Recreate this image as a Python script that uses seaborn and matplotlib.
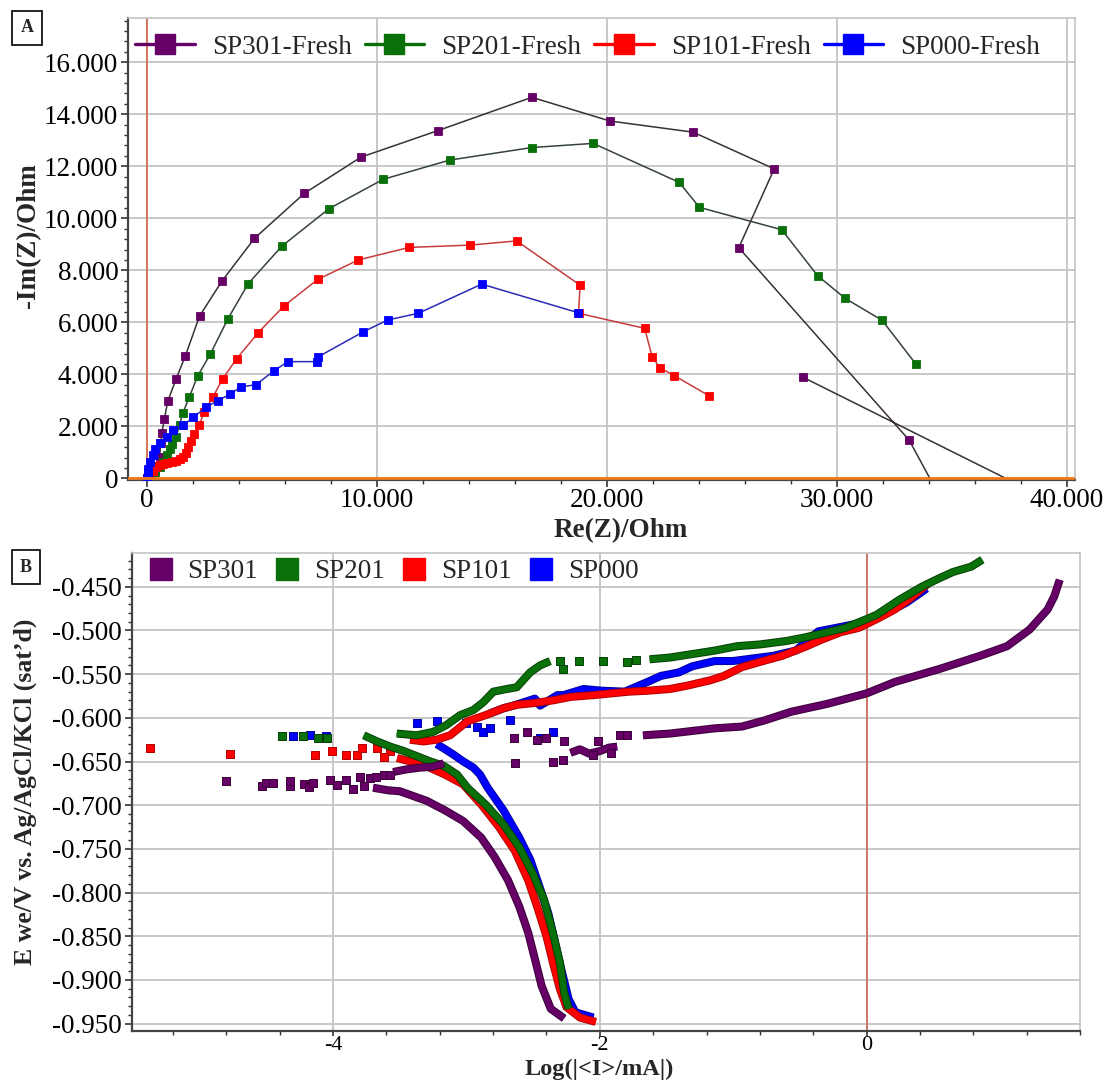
import matplotlib
matplotlib.use("Agg")
import matplotlib.pyplot as plt
import matplotlib.patheffects as pe
from matplotlib.lines import Line2D
from matplotlib.ticker import MultipleLocator, FuncFormatter, AutoMinorLocator
import seaborn as sns

# ---------------- Panel A: Nyquist plots (Ohm) ----------------
sp301_re = [0, 60, 120, 200, 280, 350, 450, 540, 600, 640, 750, 900, 1260, 1660, 2280, 3250,
            4670, 6840, 9300, 12640, 16730, 20130, 23750, 27270, 25730, 33140, 34500, 40000, 28520]
sp301_im = [0, 90, 140, 190, 250, 320, 470, 830, 1350, 1730, 2280, 2970, 3820, 4700, 6240, 7580,
            9230, 10960, 12350, 13370, 14650, 13740, 13310, 11900, 8870, 1470, -750, -1170, 3890]

sp201_re = [0, 130, 350, 570, 710, 860, 1000, 1070, 1260, 1410, 1550, 1840, 2200, 2750, 3510, 4400,
            5860, 7910, 10270, 13170, 16730, 19400, 23140, 24020, 27600, 29160, 30360, 31960, 33420]
sp201_im = [0, 130, 250, 450, 640, 900, 1150, 1320, 1600, 2050, 2500, 3140, 3940, 4780, 6130, 7490,
            8930, 10370, 11500, 12240, 12720, 12880, 11380, 10420, 9560, 7790, 6920, 6080, 4410]

sp101_re = [0, 100, 250, 400, 550, 700, 860, 1070, 1260, 1430, 1580, 1700, 1800, 1900, 2060, 2270,
            2480, 2860, 3280, 3900, 4840, 5950, 7420, 9190, 11390, 14040, 16070, 18830, 18760,
            21640, 21960, 22300, 22930, 24430]
sp101_im = [0, 150, 300, 430, 500, 550, 580, 640, 670, 730, 830, 990, 1220, 1450, 1690, 2050,
            2550, 3130, 3820, 4610, 5610, 6630, 7650, 8400, 8880, 8970, 9130, 7430, 6350,
            5770, 4680, 4250, 3950, 3180]

sp000_re = [0, 30, 60, 130, 250, 350, 540, 860, 1140, 1580, 2010, 2580, 3080, 3610, 4080, 4730,
            5520, 6120, 7410, 7450, 9410, 10460, 11800, 14550, 18750]
sp000_im = [0, 200, 380, 640, 900, 1120, 1350, 1580, 1880, 2050, 2350, 2750, 2990, 3240, 3520, 3600,
            4140, 4490, 4490, 4680, 5640, 6090, 6350, 7470, 6370]

labels_A = ["SP301-Fresh", "SP201-Fresh", "SP101-Fresh", "SP000-Fresh"]

# ---------------- Panel B: Tafel plots ----------------
# SP301
sp301_anodic_x = [1.448, 1.407, 1.357, 1.222, 1.053, 0.851, 0.548, 0.211, 0.0, -0.295, -0.565,
                  -0.767, -0.935, -1.138, -1.475, -1.677]
sp301_anodic_y = [-0.442, -0.461, -0.476, -0.499, -0.518, -0.529, -0.544, -0.559, -0.572, -0.584,
                  -0.593, -0.603, -0.610, -0.612, -0.618, -0.620]
sp301_mid_x = [-2.22, -2.15, -2.08, -2.00, -1.93, -1.87]
sp301_mid_y = [-0.640, -0.636, -0.641, -0.638, -0.634, -0.633]
sp301_knee_x = [-3.55, -3.45, -3.35, -3.25, -3.17]
sp301_knee_y = [-0.662, -0.659, -0.657, -0.656, -0.652]
sp301_cathodic_x = [-3.70, -3.585, -3.50, -3.298, -3.16, -3.026, -2.89, -2.79, -2.688, -2.604,
                    -2.537, -2.487, -2.436, -2.368, -2.268]
sp301_cathodic_y = [-0.680, -0.683, -0.684, -0.695, -0.706, -0.718, -0.737, -0.759, -0.786, -0.816,
                    -0.846, -0.876, -0.907, -0.933, -0.944]
sp301_dots_x = [-4.80, -4.536, -4.50, -4.45, -4.32, -4.32, -4.22, -4.18, -4.15, -4.02, -3.97, -3.90,
                -3.85, -3.80, -3.77, -3.72, -3.68, -3.62, -3.57, -1.846, -1.797, -2.014, -2.27,
                -2.273, -2.348, -2.40, -2.47, -2.547, -2.646, -2.635, -2.05, -1.915]
sp301_dots_y = [-0.672, -0.678, -0.674, -0.674, -0.678, -0.672, -0.676, -0.679, -0.674, -0.671,
                -0.677, -0.671, -0.681, -0.668, -0.678, -0.669, -0.668, -0.665, -0.665, -0.620,
                -0.620, -0.626, -0.626, -0.648, -0.650, -0.623, -0.625, -0.616, -0.623, -0.652,
                -0.642, -0.640]

# SP201
sp201_anodic_x = [0.868, 0.784, 0.649, 0.548, 0.413, 0.244, 0.076, 0.0, -0.16, -0.295, -0.464,
                  -0.599, -0.80, -0.97, -1.138, -1.307, -1.475, -1.627]
sp201_anodic_y = [-0.419, -0.427, -0.433, -0.440, -0.450, -0.465, -0.482, -0.487, -0.497, -0.502,
                  -0.508, -0.512, -0.516, -0.518, -0.523, -0.527, -0.531, -0.533]
sp201_mid_x = [-3.523, -3.373, -3.248, -3.148, -3.048, -2.948, -2.873, -2.798, -2.698, -2.623,
               -2.523, -2.448, -2.373]
sp201_mid_y = [-0.618, -0.620, -0.616, -0.608, -0.597, -0.591, -0.582, -0.570, -0.567, -0.565,
               -0.548, -0.540, -0.535]
sp201_cathodic_x = [-3.77, -3.67, -3.57, -3.47, -3.37, -3.27, -3.17, -3.07, -2.993, -2.858, -2.722,
                    -2.604, -2.503, -2.419, -2.352, -2.30, -2.268, -2.234]
sp201_cathodic_y = [-0.620, -0.627, -0.633, -0.638, -0.644, -0.650, -0.655, -0.665, -0.680, -0.699,
                    -0.722, -0.748, -0.778, -0.808, -0.846, -0.880, -0.914, -0.933]
sp201_dots_x = [-4.386, -4.224, -4.11, -4.048, -2.298, -2.273, -2.16, -1.973, -1.80, -1.73]
sp201_dots_y = [-0.621, -0.621, -0.623, -0.623, -0.535, -0.544, -0.535, -0.535, -0.536, -0.534]

# SP101
sp101_anodic_x = [0.464, 0.346, 0.211, 0.076, -0.059, -0.194, -0.329, -0.464, -0.633, -0.80, -0.935,
                  -1.07, -1.172, -1.34, -1.475, -1.644, -1.779, -1.914, -2.048, -2.217, -2.352,
                  -2.487, -2.621, -2.722, -2.858, -2.993, -3.123, -3.223, -3.323, -3.423]
sp101_anodic_y = [-0.446, -0.461, -0.476, -0.487, -0.497, -0.502, -0.510, -0.519, -0.529, -0.536,
                  -0.542, -0.552, -0.557, -0.563, -0.567, -0.569, -0.570, -0.572, -0.574, -0.576,
                  -0.580, -0.583, -0.585, -0.589, -0.597, -0.604, -0.620, -0.625, -0.627, -0.625]
sp101_cathodic_x = [-3.52, -3.42, -3.32, -3.16, -3.026, -2.89, -2.756, -2.638, -2.537, -2.47, -2.40,
                    -2.352, -2.30, -2.25, -2.149, -2.03]
sp101_cathodic_y = [-0.646, -0.650, -0.654, -0.665, -0.676, -0.699, -0.725, -0.752, -0.786, -0.816,
                    -0.850, -0.880, -0.910, -0.931, -0.943, -0.948]
sp101_dots_x = [-5.37, -4.77, -4.136, -4.01, -3.90, -3.82, -3.785, -3.67, -3.57, -3.62]
sp101_dots_y = [-0.635, -0.641, -0.642, -0.638, -0.642, -0.642, -0.635, -0.635, -0.638, -0.645]

# SP000
sp000_anodic_x = [0.45, 0.30, 0.15, 0.0, -0.227, -0.362, -0.531, -0.699, -1.003, -1.138, -1.307,
                  -1.407, -1.542, -1.644, -1.813, -1.981, -2.123, -2.273, -2.318, -2.448, -2.487,
                  -2.648, -2.722, -2.824]
sp000_anodic_y = [-0.452, -0.468, -0.480, -0.490, -0.497, -0.501, -0.523, -0.529, -0.535, -0.535,
                  -0.541, -0.548, -0.552, -0.559, -0.570, -0.569, -0.567, -0.574, -0.574, -0.586,
                  -0.578, -0.586, -0.589, -0.595]
sp000_cathodic_x = [-3.223, -3.17, -3.098, -3.023, -2.948, -2.898, -2.841, -2.722, -2.604, -2.52,
                    -2.453, -2.386, -2.335, -2.284, -2.234, -2.183, -2.048]
sp000_cathodic_y = [-0.630, -0.635, -0.642, -0.650, -0.657, -0.665, -0.680, -0.706, -0.737, -0.763,
                    -0.793, -0.824, -0.858, -0.891, -0.922, -0.937, -0.943]
sp000_dots_x = [-4.30, -4.17, -4.05, -3.373, -3.223, -3.0, -2.923, -2.873, -2.823, -2.673, -2.348,
                -2.448]
sp000_dots_y = [-0.621, -0.620, -0.621, -0.606, -0.604, -0.606, -0.610, -0.616, -0.612, -0.603,
                -0.616, -0.623]

labels_B = ["SP301", "SP201", "SP101", "SP000"]

# ---------------- styling ----------------
sns.set_theme(style="white")
plt.rcParams["font.family"] = ["Liberation Serif", "DejaVu Serif"]
plt.rcParams["axes.unicode_minus"] = False

FS = 19.5
GRID = "#c4c4c4"
purple, green, red, blue = "#660066", "#0a700a", "#ff0000", "#0000ff"
purple_e, green_e, red_e, blue_e = "#3a003a", "#034003", "#b00000", "#0000a0"

fig = plt.figure(figsize=(11.04, 10.86), dpi=100)
axA = fig.add_axes([128 / 1104, 1 - 480 / 1086, 947 / 1104, 462 / 1086])
axB = fig.add_axes([131.7 / 1104, 1 - 1031 / 1086, 948.3 / 1104, 478.3 / 1086])


def style_axes(ax):
    ax.set_facecolor("white")
    ax.grid(True, which="major", color=GRID, lw=1.3)
    ax.set_axisbelow(True)
    for s in ("top", "right"):
        ax.spines[s].set_color(GRID)
        ax.spines[s].set_linewidth(1.2)
    for s in ("left", "bottom"):
        ax.spines[s].set_color("#444444")
        ax.spines[s].set_linewidth(1.6)
    ax.tick_params(which="both", direction="out", colors="#333333", labelcolor="black",
                   labelsize=FS, left=True, bottom=True)
    ax.tick_params(which="major", length=5, width=1.2, pad=2)
    ax.tick_params(which="minor", length=3, width=1.0)


# ---------------- Panel A ----------------
style_axes(axA)
nyquist = [
    (sp301_re, sp301_im, "#3a3038", purple),
    (sp201_re, sp201_im, "#35433a", green),
    (sp101_re, sp101_im, "#c83c3c", red),
    (sp000_re, sp000_im, "#2a2ab8", blue),
]
for re_, im_, lc, mc in nyquist:
    sns.lineplot(x=re_, y=im_, sort=False, estimator=None, ax=axA, color=lc, lw=1.1,
                 marker="s", markersize=5.3, markerfacecolor=mc, markeredgecolor=mc,
                 markeredgewidth=0.6, legend=False, zorder=3)

axA.axvline(0, color="#d8603c", lw=1.1, zorder=2)
axA.axhline(0, color="#f07a1a", lw=2.0, zorder=4)
axA.set_xlim(-830, 40350)
axA.set_ylim(-60, 17700)
axA.xaxis.set_major_locator(MultipleLocator(10000))
axA.xaxis.set_minor_locator(MultipleLocator(2000))
axA.yaxis.set_major_locator(MultipleLocator(2000))
axA.yaxis.set_minor_locator(MultipleLocator(400))
thousands = FuncFormatter(lambda v, p: f"{v:,.0f}".replace(",", "."))
axA.xaxis.set_major_formatter(thousands)
axA.yaxis.set_major_formatter(thousands)
axA.tick_params(axis="x", which="major", pad=1)
axA.set_xlabel("Re(Z)/Ohm", fontsize=FS, fontweight="bold")
axA.set_ylabel("-Im(Z)/Ohm", fontsize=FS, fontweight="bold")
axA.xaxis.set_label_coords(0.5206, -0.082)
axA.yaxis.set_label_coords(-0.092, 0.53)

handles_A = [Line2D([], [], color=c, lw=2.4, marker="s", markersize=15,
                    markerfacecolor=c, markeredgecolor=c) for c in (purple, green, red, blue)]
axA.legend(handles_A, labels_A, loc="center left", bbox_to_anchor=(0.0074, 0.937), ncol=4,
           frameon=False, fontsize=FS, handlelength=2.2, handletextpad=0.63,
           columnspacing=0.48, borderaxespad=0, borderpad=0)

# ---------------- Panel B ----------------
style_axes(axB)
tafel = [
    (blue, blue_e, [(sp000_anodic_x, sp000_anodic_y), (sp000_cathodic_x, sp000_cathodic_y)],
     (sp000_dots_x, sp000_dots_y)),
    (red, red_e, [(sp101_anodic_x, sp101_anodic_y), (sp101_cathodic_x, sp101_cathodic_y)],
     (sp101_dots_x, sp101_dots_y)),
    (green, green_e, [(sp201_anodic_x, sp201_anodic_y), (sp201_mid_x, sp201_mid_y),
                      (sp201_cathodic_x, sp201_cathodic_y)],
     (sp201_dots_x, sp201_dots_y)),
    (purple, purple_e, [(sp301_anodic_x, sp301_anodic_y), (sp301_mid_x, sp301_mid_y),
                        (sp301_knee_x, sp301_knee_y), (sp301_cathodic_x, sp301_cathodic_y)],
     (sp301_dots_x, sp301_dots_y)),
]
for fc, ec, traces, dots in tafel:
    for tx, ty in traces:
        sns.lineplot(x=tx, y=ty, sort=False, estimator=None, ax=axB, color=fc, lw=4.4,
                     solid_joinstyle="round", solid_capstyle="butt", legend=False, zorder=3,
                     path_effects=[pe.Stroke(linewidth=5.8, foreground=ec), pe.Normal()])
    sns.scatterplot(x=dots[0], y=dots[1], ax=axB, color=fc, marker="s", s=28,
                    edgecolor=ec, linewidth=0.7, legend=False, zorder=3)

axB.axvline(0, color="#d06050", lw=1.1, zorder=2)
axB.set_xlim(-5.51, 1.60)
axB.set_ylim(-0.9584, -0.411)
axB.xaxis.set_major_locator(MultipleLocator(2))
axB.xaxis.set_minor_locator(MultipleLocator(0.4))
axB.yaxis.set_major_locator(MultipleLocator(0.05))
axB.yaxis.set_minor_locator(AutoMinorLocator(5))
axB.xaxis.set_major_formatter(FuncFormatter(lambda v, p: f"{v:.0f}"))
axB.yaxis.set_major_formatter(FuncFormatter(lambda v, p: f"{v:.3f}"))
axB.tick_params(axis="x", which="major", labelsize=16, pad=0, length=3.4)
axB.set_xlabel("Log(|<I>/mA|)", fontsize=17.5, fontweight="bold")
axB.set_ylabel("E we/V vs. Ag/AgCl/KCl (sat\u2019d)", fontsize=18.5, fontweight="bold")
axB.xaxis.set_label_coords(0.4928, -0.059)
axB.yaxis.set_label_coords(-0.100, 0.5)

handles_B = [Line2D([], [], linestyle="none", marker="s", markersize=16,
                    markerfacecolor=c, markeredgecolor=c) for c in (purple, green, red, blue)]
axB.legend(handles_B, labels_B, loc="center left", bbox_to_anchor=(0.0161, 0.96), ncol=4,
           frameon=False, fontsize=FS, handlelength=1.0, handletextpad=0.5,
           columnspacing=0.57, borderaxespad=0, borderpad=0)

# panel letters
box = dict(boxstyle="square,pad=0.45", facecolor="white", edgecolor="black", lw=1.2)
fig.text(27 / 1104, 1 - 28 / 1086, "A", fontsize=13, fontweight="bold", ha="center",
         va="center", bbox=box)
fig.text(26 / 1104, 1 - 567 / 1086, "B", fontsize=13, fontweight="bold", ha="center",
         va="center", bbox=box)

fig.savefig("out.png", dpi=100, facecolor="white")
